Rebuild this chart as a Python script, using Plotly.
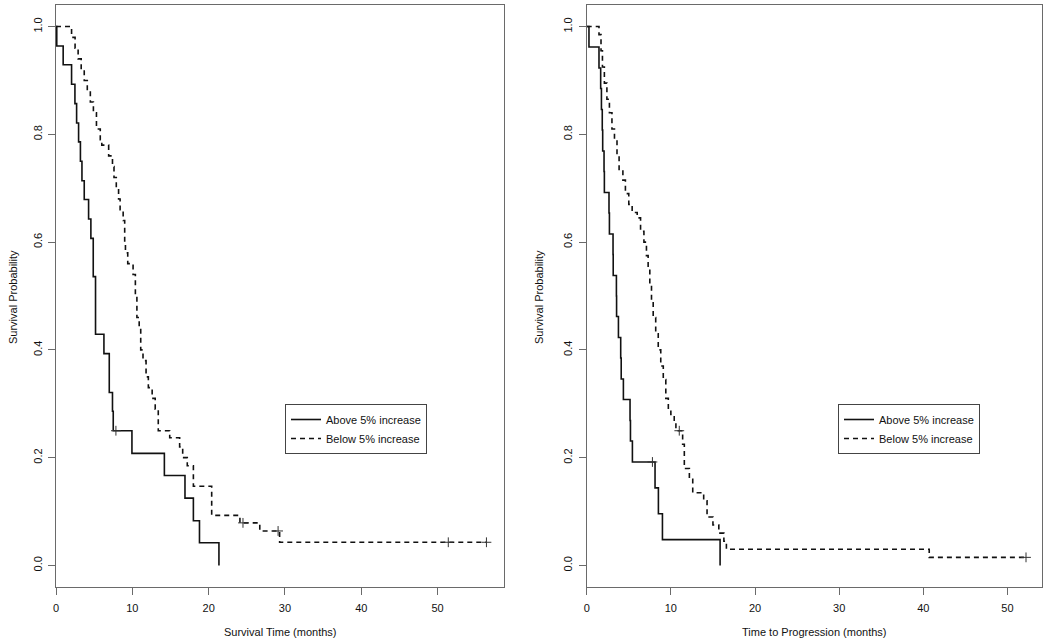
import plotly.graph_objects as go

# ---- Left panel: Overall survival ----
os_above_t = [0, 0.1, 0.94, 2.04, 2.48, 2.7, 2.96, 3.2, 3.4, 3.7, 4.27, 4.57, 4.88, 5.18, 6.28, 6.98, 7.4, 7.5,
              9.95, 14.2, 16.9, 18.0, 18.8, 21.35]
os_above_s = [1.0, 0.964, 0.929, 0.893, 0.857, 0.821, 0.786, 0.75, 0.714, 0.679, 0.643, 0.607, 0.536, 0.429,
              0.393, 0.321, 0.286, 0.25, 0.208, 0.167, 0.125, 0.083, 0.042, 0.0]
os_above_cens_t = [7.85]
os_above_cens_s = [0.25]

os_below_t = [0, 2.04, 2.5, 2.9, 3.3, 3.7, 4.1, 4.5, 4.9, 5.3, 5.8, 6.0, 6.9, 7.4, 7.6, 7.9, 8.2, 8.4, 8.8, 9.0,
              9.1, 9.4, 10.1, 10.4, 10.6, 10.9, 11.1, 11.4, 11.8, 12.1, 12.6, 13.0, 13.4, 14.9, 16.2, 16.6, 17.2,
              18.0, 20.4, 24.1, 26.7, 29.3, 56.4]
os_below_s = [1.0, 0.98, 0.96, 0.94, 0.92, 0.90, 0.88, 0.86, 0.84, 0.81, 0.79, 0.78, 0.76, 0.74, 0.72, 0.70,
              0.68, 0.66, 0.64, 0.60, 0.58, 0.56, 0.54, 0.50, 0.46, 0.44, 0.40, 0.38, 0.35, 0.33, 0.31, 0.29,
              0.25, 0.237, 0.22, 0.20, 0.185, 0.147, 0.093, 0.079, 0.064, 0.043, 0.043]
os_below_cens_t = [24.5, 29.1, 51.4, 56.4]
os_below_cens_s = [0.079, 0.064, 0.043, 0.043]

# ---- Right panel: Time to progression ----
ttp_above_t = [0, 0.27, 1.46, 1.66, 1.75, 1.85, 1.9, 2.06, 2.1, 2.65, 2.7, 3.13, 3.15, 3.53, 3.55, 3.77, 4.04,
               4.1, 4.36, 5.15, 5.2, 5.43, 8.12, 8.52, 9.0, 15.85]
ttp_above_s = [1.0, 0.962, 0.923, 0.885, 0.846, 0.808, 0.769, 0.731, 0.692, 0.654, 0.615, 0.577, 0.538, 0.5,
               0.462, 0.423, 0.385, 0.346, 0.308, 0.269, 0.231, 0.192, 0.144, 0.096, 0.048, 0.0]
ttp_above_cens_t = [7.81]
ttp_above_cens_s = [0.192]

ttp_below_t = [0, 1.46, 1.7, 1.87, 2.1, 2.4, 2.7, 3.0, 3.3, 3.6, 3.85, 4.3, 4.6, 5.0, 5.4, 6.0, 6.4, 6.8, 7.1,
               7.3, 7.5, 7.7, 7.9, 8.2, 8.5, 8.8, 9.1, 9.4, 9.7, 10.0, 10.4, 10.6, 11.4, 11.6, 12.2, 12.6, 13.9,
               14.3, 15.0, 15.7, 16.3, 16.6, 40.7, 52.2]
ttp_below_s = [1.0, 0.985, 0.955, 0.925, 0.895, 0.865, 0.84, 0.81, 0.79, 0.76, 0.735, 0.715, 0.69, 0.67, 0.655,
               0.645, 0.62, 0.60, 0.575, 0.55, 0.52, 0.49, 0.46, 0.43, 0.40, 0.37, 0.345, 0.31, 0.29, 0.28,
               0.265, 0.25, 0.225, 0.18, 0.16, 0.135, 0.12, 0.09, 0.075, 0.06, 0.045, 0.03, 0.015, 0.015]
ttp_below_cens_t = [11.0, 52.2]
ttp_below_cens_s = [0.25, 0.015]

group_names = ["Above 5% increase", "Below 5% increase"]
y_ticks = [0.0, 0.2, 0.4, 0.6, 0.8, 1.0]
y_tick_text = ["0.0", "0.2", "0.4", "0.6", "0.8", "1.0"]
x_ticks = [0, 10, 20, 30, 40, 50]
x_titles = ["Survival Time (months)", "Time to Progression (months)"]
y_title = "Survival Probability"

FONT = "Liberation Sans, Arial, sans-serif"
INK = "#111111"
FRAME = "#6a6a6a"

fig = go.Figure()

panels = [
    ("x", "y", "legend", (os_above_t, os_above_s, os_above_cens_t, os_above_cens_s),
     (os_below_t, os_below_s, os_below_cens_t, os_below_cens_s)),
    ("x2", "y2", "legend2", (ttp_above_t, ttp_above_s, ttp_above_cens_t, ttp_above_cens_s),
     (ttp_below_t, ttp_below_s, ttp_below_cens_t, ttp_below_cens_s)),
]

for xa, ya, lg, above, below in panels:
    for (t, s, ct, cs), name, dash in [(above, group_names[0], "solid"), (below, group_names[1], "5px,4px")]:
        fig.add_trace(go.Scatter(
            x=t, y=s, mode="lines", name=name, xaxis=xa, yaxis=ya, legend=lg,
            line=dict(color=INK, width=1.6, dash=dash, shape="hv"),
        ))
        fig.add_trace(go.Scatter(
            x=ct, y=cs, mode="markers", showlegend=False, xaxis=xa, yaxis=ya,
            marker=dict(symbol="cross-thin", size=7, line=dict(color="#333333", width=1)),
        ))

axis_common = dict(
    showline=True, linecolor=FRAME, linewidth=1, mirror=True,
    ticks="outside", ticklen=7, tickcolor=FRAME, tickwidth=1,
    showgrid=False, zeroline=False, automargin=False,
    tickfont=dict(family=FONT, size=11, color=INK),
)

L0, R0, T0, B0 = 56, 8, 5, 56
W = 1050 - L0 - R0
H = 643 - T0 - B0
left_dom = [0, (504 - L0) / W]
right_dom = [(586.7 - L0) / W, 1]

def px_x(px):
    return (px - L0) / W

def px_y(py):
    return (643 - B0 - py) / H

annotations = [
    dict(text=x_titles[0], x=sum(left_dom) / 2, y=px_y(632), xref="paper", yref="paper",
         showarrow=False, font=dict(size=11), xanchor="center", yanchor="middle"),
    dict(text=x_titles[1], x=sum(right_dom) / 2, y=px_y(632), xref="paper", yref="paper",
         showarrow=False, font=dict(size=11), xanchor="center", yanchor="middle"),
    dict(text=y_title, x=px_x(13), y=px_y(297), xref="paper", yref="paper", textangle=-90,
         showarrow=False, font=dict(size=11), xanchor="center", yanchor="middle"),
    dict(text=y_title, x=px_x(539), y=px_y(297), xref="paper", yref="paper", textangle=-90,
         showarrow=False, font=dict(size=11), xanchor="center", yanchor="middle"),
]

fig.update_layout(
    width=1050, height=643,
    margin=dict(l=L0, r=R0, t=T0, b=B0, autoexpand=False),
    paper_bgcolor="white", plot_bgcolor="white",
    font=dict(family=FONT, size=11, color=INK),
    xaxis=dict(domain=left_dom, range=[0, 58.7], tickvals=x_ticks, anchor="y",
               ticklabelstandoff=4, **axis_common),
    yaxis=dict(range=[-0.04, 1.04], tickvals=y_ticks, ticktext=y_tick_text, tickangle=-90, anchor="x",
               ticklabelstandoff=2, **axis_common),
    xaxis2=dict(domain=right_dom, range=[0, 54.1], tickvals=x_ticks, anchor="y2",
                ticklabelstandoff=4, **axis_common),
    yaxis2=dict(range=[-0.04, 1.04], tickvals=y_ticks, ticktext=y_tick_text, tickangle=-90, anchor="x2",
                ticklabelstandoff=2, **axis_common),
    legend=dict(x=px_x(285), y=px_y(404), xanchor="left", yanchor="top",
                bordercolor="#444444", borderwidth=1, bgcolor="white",
                font=dict(family=FONT, size=11, color=INK), tracegroupgap=0),
    legend2=dict(x=px_x(838), y=px_y(404), xanchor="left", yanchor="top",
                 bordercolor="#444444", borderwidth=1, bgcolor="white",
                 font=dict(family=FONT, size=11, color=INK), tracegroupgap=0),
    annotations=annotations,
    showlegend=True,
)

fig.write_html("out.html", config={"displayModeBar": False},
               post_script="document.body.style.margin='0';document.body.style.overflow='hidden';")
